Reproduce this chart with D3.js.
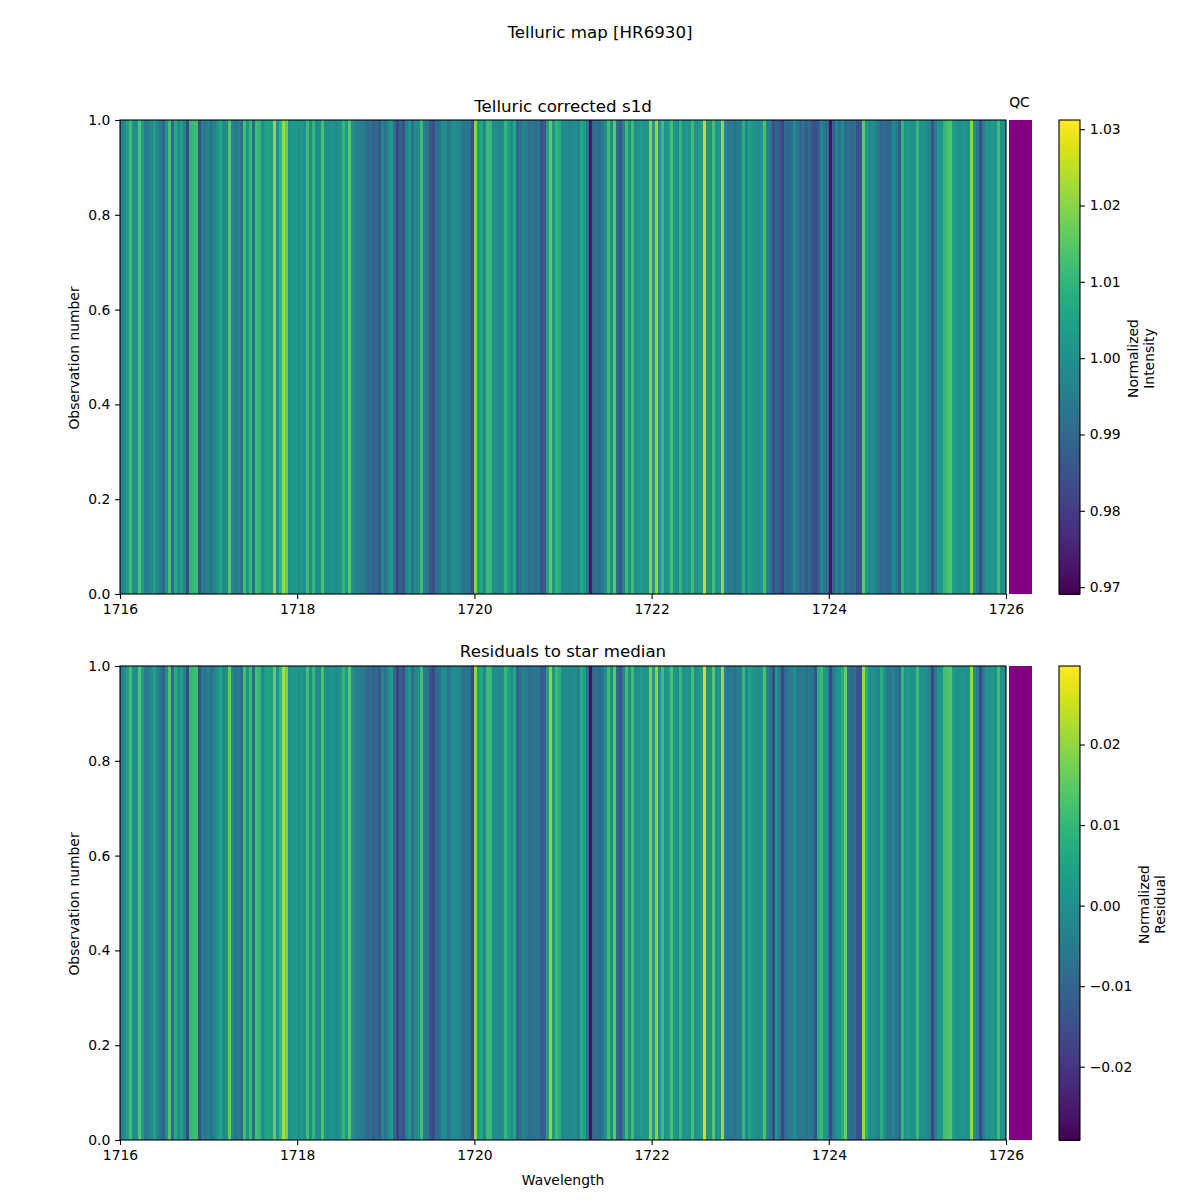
<!DOCTYPE html>
<html><head><meta charset="utf-8">
<script src="https://cdn.jsdelivr.net/npm/d3@7"></script>
<style>html,body{margin:0;padding:0;background:#fff}svg{display:block}text{font-family:"DejaVu Sans",sans-serif;fill:#000}</style>
</head><body><svg id="c" width="1200" height="1200"></svg>
<script>
const wavelengthDomain=[1716,1726];
const observationDomain=[0,1];
const xTicks=[1716,1718,1720,1722,1724,1726];
const yTicks=[0,0.2,0.4,0.6,0.8,1];
const intensityRange=[0.9691,1.0312];
const residualRange=[-0.0291,0.02975];
const intensityTicks=[0.97,0.98,0.99,1.00,1.01,1.02,1.03];
const residualTicks=[-0.02,-0.01,0,0.01,0.02];
const qcStatus=["#800080"];
const intensity=[
.995,.999,1.004,1.012,1.000,.999,1.014,1.003,.995,.996,
.999,1.004,.997,.994,.989,1.001,1.013,.991,1.007,.999,
1.004,.997,.983,1.010,1.011,1.012,.984,.995,.994,.997,
.993,.997,1.001,1.006,.999,.999,1.015,.998,.994,.996,
.992,1.012,1.001,1.011,.991,1.012,1.010,.999,1.004,1.006,
1.004,1.021,1.001,1.010,1.022,1.017,1.000,1.003,1.002,1.001,
1.002,1.000,1.012,.999,1.010,.999,.999,1.013,1.000,.999,
1.002,1.000,.999,1.002,1.010,1.002,1.015,1.000,.997,.996,
.995,.994,.990,.992,.988,.991,.987,.997,.993,.999,
1.004,.991,.982,.989,.985,.997,1.002,.992,.999,.999,
1.012,.995,.994,.986,.984,.992,.993,.999,.999,.993,
.998,1.000,.999,.997,.993,.994,.993,.983,1.020,1.003,
1.006,.998,1.012,1.010,.999,.999,.998,.999,1.010,1.004,
.999,1.006,.989,.993,.997,.995,.992,.993,.991,.994,
.984,.987,1.004,1.016,1.002,1.010,1.008,.999,.999,.998,
.999,.999,.997,1.006,1.003,.994,.973,.991,.993,.991,
.995,1.000,1.012,.999,1.015,.991,.986,.997,1.012,1.001,
1.012,.999,1.001,1.003,1.001,1.002,1.020,1.003,1.021,1.001,
1.012,1.001,1.003,1.013,1.002,1.000,1.010,1.000,1.002,1.001,
1.012,1.000,1.002,1.004,1.025,1.001,1.000,1.013,1.001,1.002,
1.021,.997,.994,.995,.993,.995,.996,1.008,.998,1.005,
1.002,1.000,.999,1.001,1.013,.996,.994,.984,.989,.987,
.981,.991,.989,.992,.998,.994,.989,.992,.987,.991,
.985,.984,.987,.997,.993,.991,.972,.989,.997,.992,
1.000,.990,.992,.990,.991,.983,.986,1.016,1.002,.999,
1.000,.998,.994,.989,.991,.989,.991,.999,.995,.987,
1.010,1.001,1.003,1.000,1.001,1.011,1.000,1.001,.999,.997,
.985,.995,1.002,1.001,1.010,1.013,1.014,1.004,1.001,1.000,
1.002,1.001,1.000,1.021,1.000,.995,.984,.995,1.002,1.001,
1.003,1.001,1.012,1.000,1.001];
const residual=[
-.005,-.001,.004,.012,.000,-.001,.014,.003,-.005,-.004,
-.001,.004,-.003,-.006,-.011,.001,.014,-.009,.008,-.001,
.004,-.003,-.017,.010,.011,.012,-.015,-.005,-.006,-.003,
-.007,-.003,.001,.006,-.001,-.001,.016,-.002,-.006,-.004,
-.008,.012,.001,.011,-.009,.012,.010,-.001,.004,.006,
.004,.016,.001,.010,.022,.017,.000,.003,.002,.001,
.002,.000,.012,-.001,.010,-.001,-.001,.013,.000,-.001,
.002,.000,-.001,.002,.010,.002,.015,.000,-.003,-.004,
-.005,-.006,-.010,-.008,-.012,-.009,-.013,-.003,-.007,-.001,
.004,-.009,-.018,-.011,-.015,-.003,.002,-.008,-.001,-.001,
.012,-.005,-.006,-.014,-.016,-.008,-.007,-.001,-.001,-.007,
-.002,.000,-.001,-.003,-.007,-.006,-.007,-.017,.020,.003,
.006,-.002,.012,.010,-.001,-.001,-.002,-.001,.010,.004,
-.001,.006,-.011,-.007,-.003,-.005,-.008,-.007,-.006,-.006,
-.012,-.011,.004,.019,.002,.011,.008,-.001,-.001,-.002,
-.001,-.001,-.003,.008,.004,-.006,-.027,-.009,-.007,-.009,
-.005,.000,.012,-.001,.015,-.009,-.014,-.003,.012,.001,
.012,-.001,.001,.003,.001,.002,.018,.003,.019,.001,
.012,.001,.003,.013,.002,.000,.010,.000,.002,.001,
.012,.000,.002,.004,.025,.001,.000,.014,.001,.002,
.021,-.003,-.006,-.005,-.007,-.005,-.004,.010,-.002,.005,
.002,.000,-.001,.001,.013,-.004,-.006,-.016,.002,-.005,
-.017,-.009,-.005,-.004,.000,-.005,-.006,-.004,-.007,-.005,
-.006,-.014,.008,.011,.003,.000,-.017,-.005,.000,.002,
.008,.016,-.007,-.009,-.007,-.014,-.015,.021,.008,-.001,
.000,-.001,-.003,.008,.000,-.006,-.005,-.003,-.006,-.009,
.010,.001,.003,.000,.001,.011,.000,.001,-.001,-.003,
-.017,-.005,.002,.001,.012,.013,.014,.004,.001,.000,
.002,.001,.000,.021,.000,-.005,-.016,-.005,.002,.001,
.003,.001,.012,.000,.001];

const svg=d3.select("#c");
const L=120,R=1006,W=R-L,H=474;
const x=d3.scaleLinear().domain(wavelengthDomain).range([L,R]);
const binEdge=d3.scaleLinear().domain([0,intensity.length]).range(wavelengthDomain);

function panel(top,title,vals,range,ticks,fmt,labels,showX){
  const y=d3.scaleLinear().domain(observationDomain).range([top+H,top]);
  const color=d3.scaleSequential(d3.interpolateViridis).domain(range);
  const g=svg.append("g").attr("shape-rendering","crispEdges");
  g.selectAll("rect").data(vals).join("rect")
    .attr("x",(d,i)=>x(binEdge(i))).attr("y",y(1))
    .attr("width",(d,i)=>x(binEdge(i+1))-x(binEdge(i))).attr("height",y(0)-y(1))
    .attr("fill",d=>color(d));
  svg.append("rect").attr("x",L).attr("y",top).attr("width",W).attr("height",H)
    .attr("fill","none").attr("stroke","#000").attr("stroke-width",1.1);
  const ax=svg.append("g").attr("transform",`translate(0,${top+H})`)
    .call(d3.axisBottom(x).tickValues(xTicks).tickFormat(d3.format("d")).tickSize(4.9).tickPadding(4.8).tickSizeOuter(0));
  const ay=svg.append("g").attr("transform",`translate(${L},0)`)
    .call(d3.axisLeft(y).tickValues(yTicks).tickFormat(d3.format(".1f")).tickSize(4.9).tickPadding(4.8).tickSizeOuter(0));
  [ax,ay].forEach(a=>{a.select(".domain").remove();
    a.selectAll("line").attr("stroke","#000").attr("stroke-width",1.1);
    a.selectAll("text").attr("font-size",13.9).attr("font-family","DejaVu Sans").attr("fill","#000");});
  svg.append("text").attr("x",(L+R)/2).attr("y",top-labels.titleGap).attr("text-anchor","middle").attr("font-size",16.67).text(title);
  svg.append("text").attr("transform",`translate(79,${top+H/2+1}) rotate(-90)`).attr("text-anchor","middle").attr("font-size",13.9).text("Observation number");
  if(showX) svg.append("text").attr("x",(L+R)/2).attr("y",top+H+45).attr("text-anchor","middle").attr("font-size",13.9).text("Wavelength");
  svg.append("g").selectAll("rect").data(qcStatus).join("rect")
    .attr("x",1009).attr("y",top).attr("width",23).attr("height",H).attr("fill",d=>d);
  const cy=d3.scaleLinear().domain(range).range([top+H,top]);
  const cb=svg.append("g").attr("shape-rendering","crispEdges");
  const cbStep=(range[1]-range[0])/256;
  const cbSteps=d3.range(256).map(i=>range[0]+cbStep*i);
  cb.selectAll("rect").data(cbSteps).join("rect")
    .attr("x",1059).attr("width",21)
    .attr("y",d=>cy(d+cbStep)).attr("height",d=>cy(d)-cy(d+cbStep)+0.5)
    .attr("fill",d=>color(d+cbStep/2));
  svg.append("rect").attr("x",1059).attr("y",top).attr("width",21).attr("height",H)
    .attr("fill","none").attr("stroke","#000").attr("stroke-width",1.1);
  const ac=svg.append("g").attr("transform","translate(1080,0)")
    .call(d3.axisRight(cy).tickValues(ticks).tickFormat(fmt).tickSize(4.9).tickPadding(4.8).tickSizeOuter(0));
  ac.select(".domain").remove();
  ac.selectAll("line").attr("stroke","#000").attr("stroke-width",1.1);
  ac.selectAll("text").attr("font-size",13.9).attr("font-family","DejaVu Sans").attr("fill","#000");
  const t=svg.append("text").attr("transform",`translate(${labels.x},${top+H/2+1.5}) rotate(-90)`).attr("text-anchor","middle").attr("font-size",13.9);
  t.append("tspan").attr("x",0).attr("dy",0).text("Normalized");
  t.append("tspan").attr("x",0).attr("dy",16.2).text(labels.line2);
}
svg.append("text").attr("x",600).attr("y",37.5).attr("text-anchor","middle").attr("font-size",16.67).text("Telluric map [HR6930]");
svg.append("text").attr("x",1019.5).attr("y",107).attr("text-anchor","middle").attr("font-size",13.9).text("QC");
panel(120,"Telluric corrected s1d",intensity,intensityRange,intensityTicks,d3.format(".2f"),{x:1138,line2:"Intensity",titleGap:8},false);
panel(666,"Residuals to star median",residual,residualRange,residualTicks,d=>d3.format(".2f")(d).replace("-","\u2212"),{x:1149,line2:"Residual",titleGap:9},true);
</script></body></html>
